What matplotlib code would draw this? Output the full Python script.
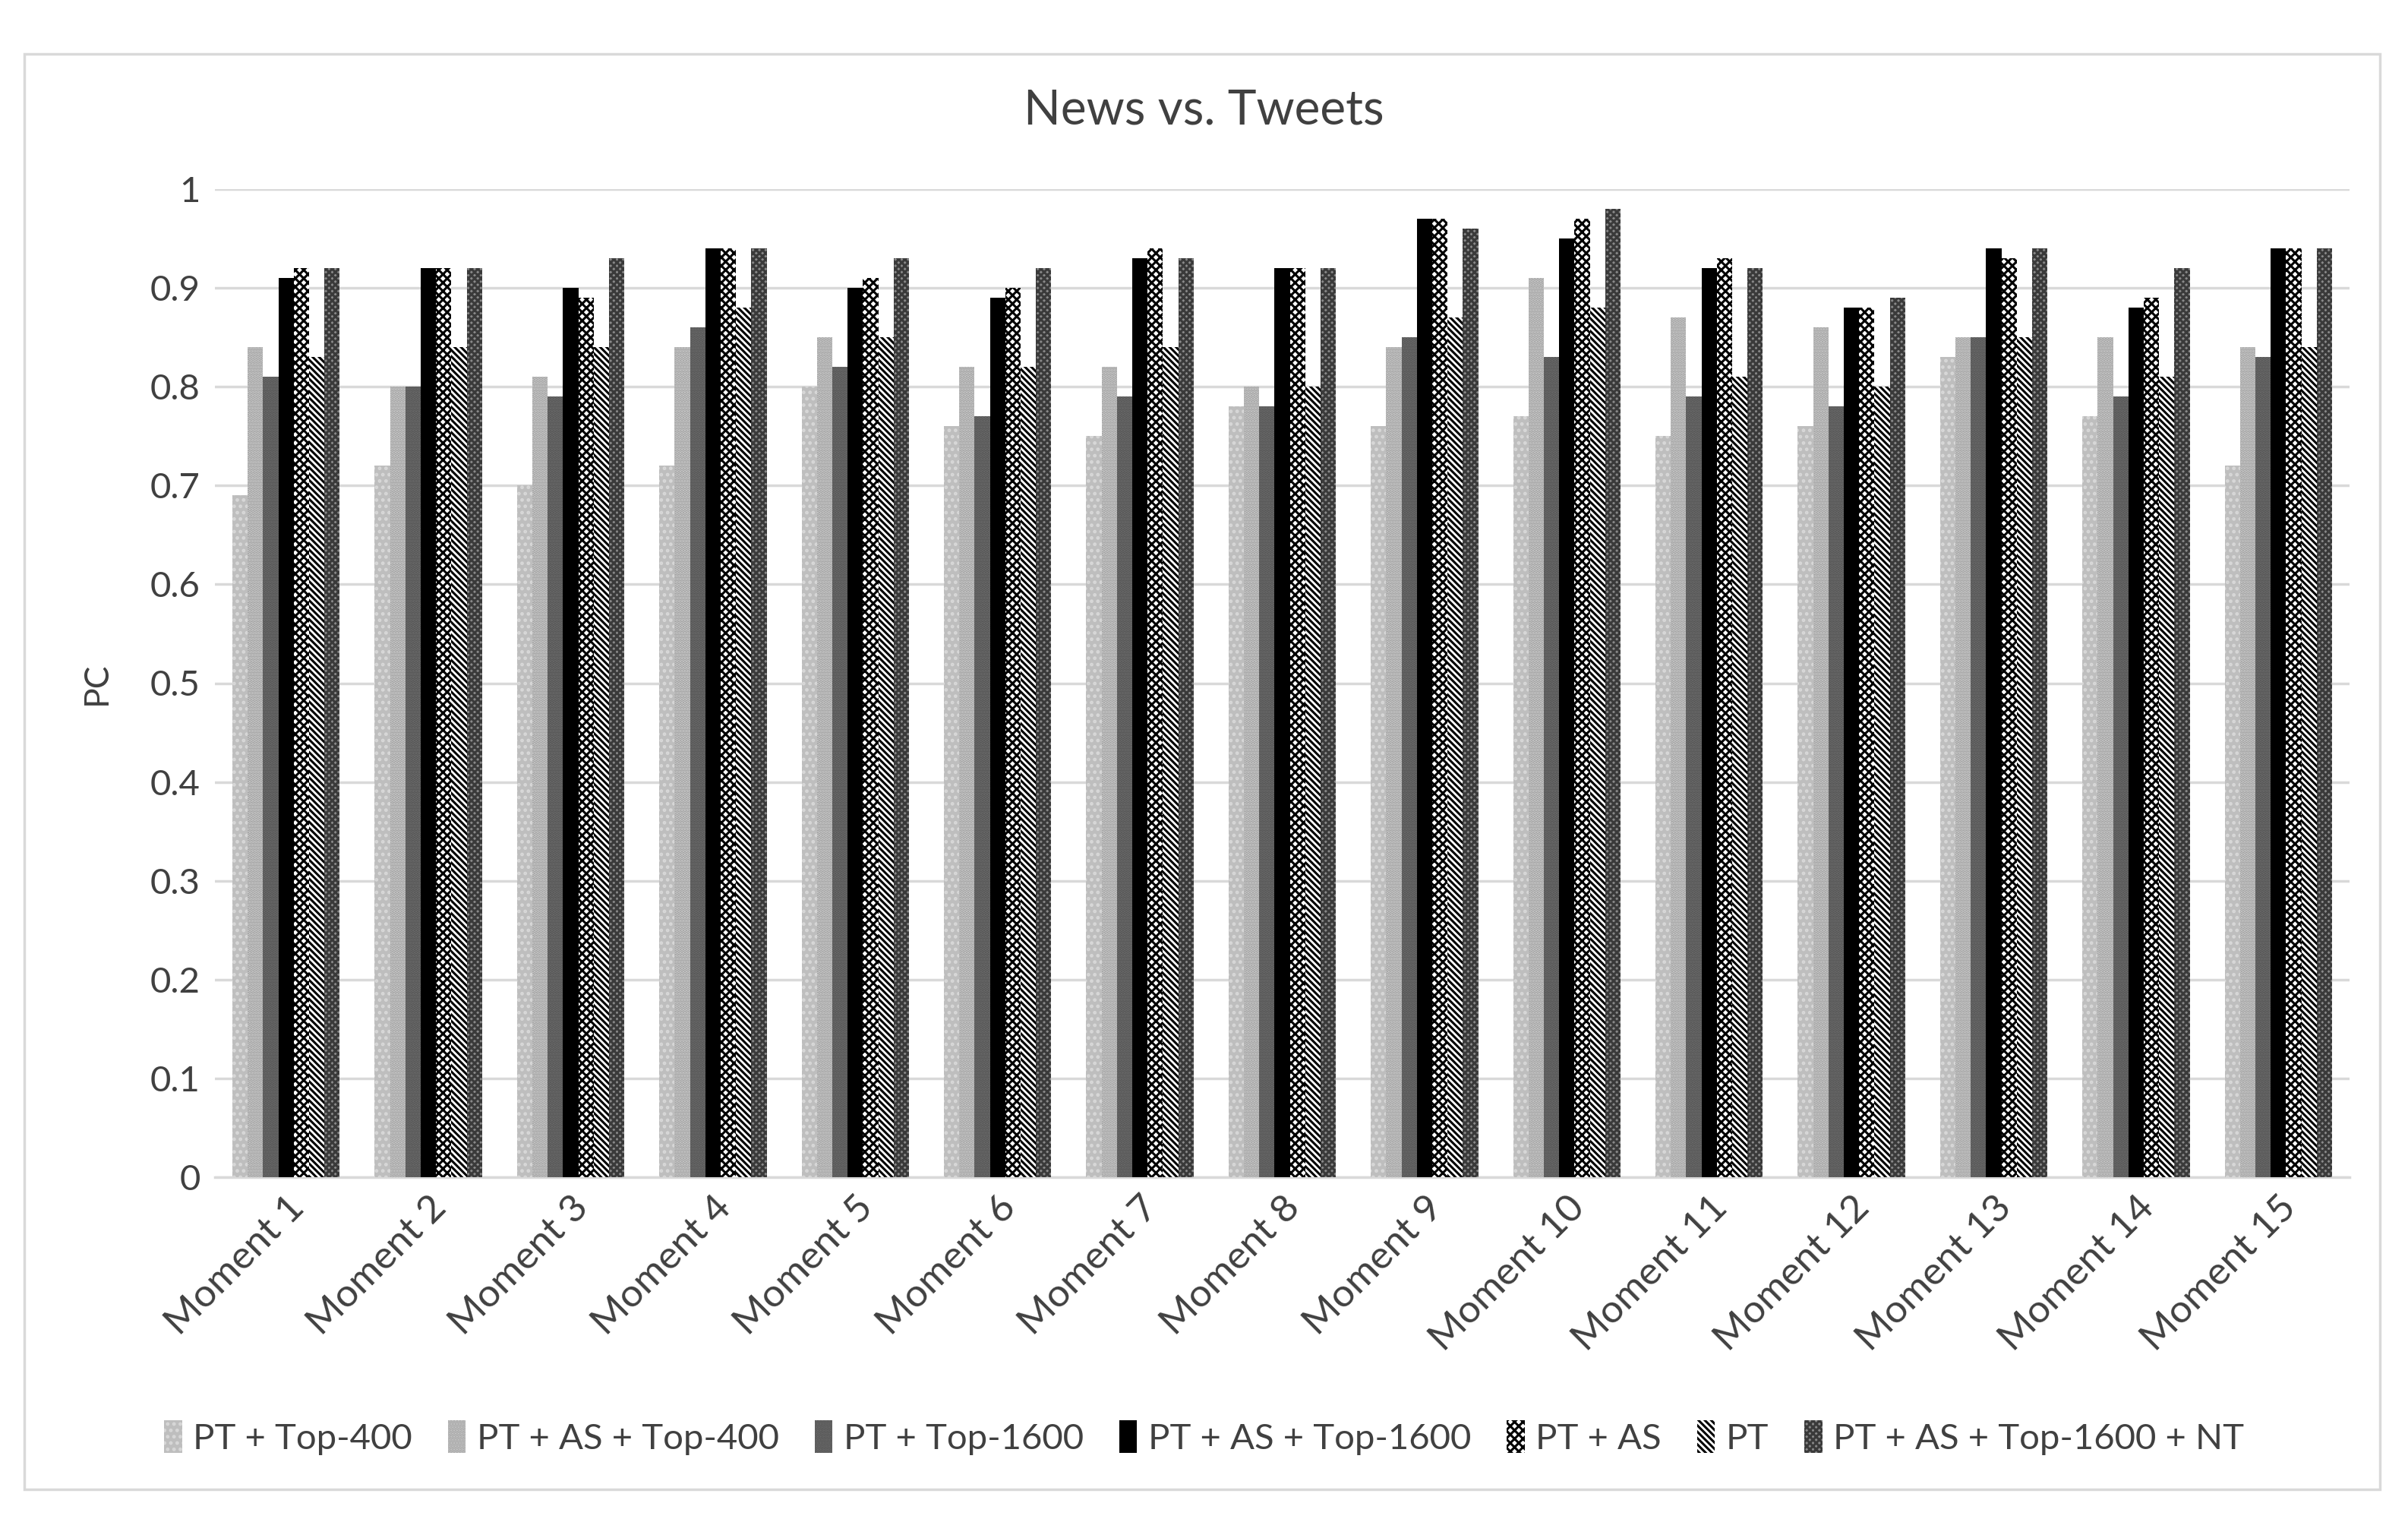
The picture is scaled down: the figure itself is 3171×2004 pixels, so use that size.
import matplotlib
matplotlib.use("Agg")
import matplotlib.pyplot as plt
import numpy as np
from matplotlib.patches import Rectangle

plt.rcParams['font.family'] = ['Lato', 'DejaVu Sans']

categories = [f"Moment {i}" for i in range(1, 16)]
series_names = ["PT + Top-400", "PT + AS + Top-400", "PT + Top-1600",
                "PT + AS + Top-1600", "PT + AS", "PT", "PT + AS + Top-1600 + NT"]

pt_top400      = [0.69, 0.72, 0.70, 0.72, 0.80, 0.76, 0.75, 0.78, 0.76, 0.77, 0.75, 0.76, 0.83, 0.77, 0.72]
pt_as_top400   = [0.84, 0.80, 0.81, 0.84, 0.85, 0.82, 0.82, 0.80, 0.84, 0.91, 0.87, 0.86, 0.85, 0.85, 0.84]
pt_top1600     = [0.81, 0.80, 0.79, 0.86, 0.82, 0.77, 0.79, 0.78, 0.85, 0.83, 0.79, 0.78, 0.85, 0.79, 0.83]
pt_as_top1600  = [0.91, 0.92, 0.90, 0.94, 0.90, 0.89, 0.93, 0.92, 0.97, 0.95, 0.92, 0.88, 0.94, 0.88, 0.94]
pt_as          = [0.92, 0.92, 0.89, 0.94, 0.91, 0.90, 0.94, 0.92, 0.97, 0.97, 0.93, 0.88, 0.93, 0.89, 0.94]
pt             = [0.83, 0.84, 0.84, 0.88, 0.85, 0.82, 0.84, 0.80, 0.87, 0.88, 0.81, 0.80, 0.85, 0.81, 0.84]
pt_as_top1600_nt = [0.92, 0.92, 0.93, 0.94, 0.93, 0.92, 0.93, 0.92, 0.96, 0.98, 0.92, 0.89, 0.94, 0.92, 0.94]

series = [pt_top400, pt_as_top400, pt_top1600, pt_as_top1600, pt_as, pt, pt_as_top1600_nt]

styles = [
    dict(facecolor="#bebebe", edgecolor="#d8d8d8", hatch=".."),
    dict(facecolor="#a0a0a0", edgecolor="#c8c8c8", hatch="...."),
    dict(facecolor="#555555", edgecolor="#6a6a6a", hatch="...."),
    dict(facecolor="#000000", edgecolor="#000000", hatch=None),
    dict(facecolor="#ffffff", edgecolor="#000000", hatch="xxx"),
    dict(facecolor="#ffffff", edgecolor="#000000", hatch="\\\\\\\\"),
    dict(facecolor="#8a8a8a", edgecolor="#3a3a3a", hatch="xxxx"),
]

W, H = 3171, 2004
fig = plt.figure(figsize=(W / 100, H / 100), dpi=100)
plt.rcParams['hatch.linewidth'] = 2.2

ax = fig.add_axes([283 / W, 1 - 1550 / H, (3094 - 283) / W, (1550 - 249) / H])

x = np.arange(len(categories))
n = len(series)
group_w = 0.755
bw = group_w / n
for i, (vals, st, name) in enumerate(zip(series, styles, series_names)):
    offs = -group_w / 2 + bw * (i + 0.5)
    ax.bar(x + offs, vals, bw, label=name, linewidth=0, zorder=3, **st)

ax.set_xlim(-0.5, len(categories) - 0.5)
ax.set_ylim(0, 1)
ax.set_yticks(np.arange(0, 1.01, 0.1))
ax.set_yticklabels(["0"] + [f"{v:.1f}" for v in np.arange(0.1, 0.95, 0.1)] + ["1"])
ax.yaxis.grid(True, color="#d9d9d9", linewidth=2.5, zorder=0)
ax.set_axisbelow(True)
for s in ["top", "right", "left"]:
    ax.spines[s].set_visible(False)
ax.spines["bottom"].set_color("#d9d9d9")
ax.spines["bottom"].set_linewidth(2.5)
ax.tick_params(axis="y", length=0, labelsize=34, colors="#404040", pad=14)
ax.tick_params(axis="x", length=0, labelsize=37, colors="#404040", pad=12)
ax.set_xticks(x)
ax.set_xticklabels(categories, rotation=45, ha="right", rotation_mode="anchor")
ax.set_ylabel("PC", fontsize=32, color="#404040", labelpad=36)

fig.text(0.5, 1 - 146 / H, "News vs. Tweets", ha="center", va="center",
         fontsize=46, color="#404040")

leg = fig.legend(loc="center", bbox_to_anchor=(0.5, 1 - 1893 / H), ncol=7,
                 frameon=False, fontsize=34, handlelength=0.5, handleheight=1.0,
                 handletextpad=0.3, columnspacing=1.0)
for t in leg.get_texts():
    t.set_color("#404040")

fig.patches.append(Rectangle((32 / W, 1 - 1961 / H), (3134 - 32) / W, (1961 - 71) / H,
                             transform=fig.transFigure, fill=False,
                             edgecolor="#d9d9d9", linewidth=2.5))

fig.savefig("out.png", dpi=100, facecolor="white")
